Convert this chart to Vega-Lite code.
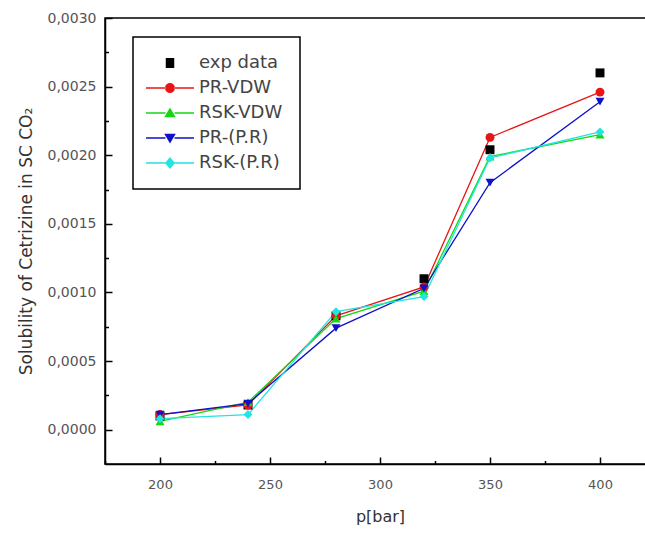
{
  "$schema": "https://vega.github.io/schema/vega-lite/v6.json",
  "autosize": "none",
  "padding": {"left": 105, "top": 18, "right": 0, "bottom": 70},
  "width": 550,
  "height": 446,
  "background": "white",
  "config": {
    "view": {"stroke": "black", "strokeWidth": 1.5},
    "font": "DejaVu Sans",
    "axis": {
      "domainColor": "black", "domainWidth": 1.5, "grid": false,
      "tickColor": "black", "tickWidth": 1.5,
      "labelFont": "DejaVu Sans", "labelFontSize": 13, "labelColor": "#555555",
      "titleFont": "DejaVu Sans", "titleFontWeight": "normal", "titleColor": "#333333"
    }
  },
  "data": {"values": [
    {"p": 200, "series": "exp data", "value": 0.00010},
    {"p": 240, "series": "exp data", "value": 0.00018},
    {"p": 280, "series": "exp data", "value": 0.00083},
    {"p": 320, "series": "exp data", "value": 0.00110},
    {"p": 350, "series": "exp data", "value": 0.00204},
    {"p": 400, "series": "exp data", "value": 0.00260},
    {"p": 200, "series": "PR-VDW", "value": 0.00011},
    {"p": 240, "series": "PR-VDW", "value": 0.00018},
    {"p": 280, "series": "PR-VDW", "value": 0.00083},
    {"p": 320, "series": "PR-VDW", "value": 0.00104},
    {"p": 350, "series": "PR-VDW", "value": 0.00213},
    {"p": 400, "series": "PR-VDW", "value": 0.00246},
    {"p": 200, "series": "RSK-VDW", "value": 0.00006},
    {"p": 240, "series": "RSK-VDW", "value": 0.00020},
    {"p": 280, "series": "RSK-VDW", "value": 0.00081},
    {"p": 320, "series": "RSK-VDW", "value": 0.00101},
    {"p": 350, "series": "RSK-VDW", "value": 0.00199},
    {"p": 400, "series": "RSK-VDW", "value": 0.00215},
    {"p": 200, "series": "PR-(P.R)", "value": 0.00011},
    {"p": 240, "series": "PR-(P.R)", "value": 0.00019},
    {"p": 280, "series": "PR-(P.R)", "value": 0.00074},
    {"p": 320, "series": "PR-(P.R)", "value": 0.00103},
    {"p": 350, "series": "PR-(P.R)", "value": 0.00180},
    {"p": 400, "series": "PR-(P.R)", "value": 0.00239},
    {"p": 200, "series": "RSK-(P.R)", "value": 0.00008},
    {"p": 240, "series": "RSK-(P.R)", "value": 0.00011},
    {"p": 280, "series": "RSK-(P.R)", "value": 0.00086},
    {"p": 320, "series": "RSK-(P.R)", "value": 0.00097},
    {"p": 350, "series": "RSK-(P.R)", "value": 0.00198},
    {"p": 400, "series": "RSK-(P.R)", "value": 0.00217}
  ]},
  "encoding": {
    "x": {
      "field": "p", "type": "quantitative",
      "scale": {"domain": [175, 425], "nice": false, "zero": false},
      "axis": {
        "title": "p[bar]", "titleFontSize": 16,
        "values": [175, 200, 225, 250, 275, 300, 325, 350, 375, 400, 425],
        "labelExpr": "datum.value % 50 == 0 ? format(datum.value, 'd') : ''",
        "tickSize": {"condition": {"test": "datum.value % 50 != 0", "value": -3.5}, "value": -7},
        "labelPadding": 21, "titlePadding": 17
      }
    },
    "y": {
      "field": "value", "type": "quantitative",
      "scale": {"domain": [-0.00025, 0.003], "nice": false, "zero": false},
      "axis": {
        "title": "Solubility of Cetrizine in SC CO₂", "titleFontSize": 17,
        "values": [0, 0.00025, 0.0005, 0.00075, 0.001, 0.00125, 0.0015, 0.00175, 0.002, 0.00225, 0.0025, 0.00275, 0.003],
        "labelExpr": "round(datum.value*20000) % 2 == 0 ? replace(format(datum.value, '.4f'), '.', ',') : ''",
        "labelFontSize": 14,
        "tickSize": {"condition": {"test": "round(datum.value*20000) % 2 != 0", "value": -3.5}, "value": -7},
        "labelPadding": 16, "titlePadding": 12
      }
    },
    "color": {
      "field": "series", "type": "nominal",
      "scale": {
        "domain": ["exp data", "PR-VDW", "RSK-VDW", "PR-(P.R)", "RSK-(P.R)"],
        "range": ["#000000", "#e81515", "#15d815", "#1010c8", "#22e4e4"]
      },
      "legend": null
    }
  },
  "layer": [
    {
      "transform": [{"filter": "datum.series != 'exp data'"}],
      "mark": {"type": "line", "strokeWidth": 1.3, "clip": true},
      "encoding": {"detail": {"field": "series"}}
    },
    {
      "mark": {"type": "point", "filled": true, "size": 80, "opacity": 1, "clip": true},
      "encoding": {
        "shape": {
          "field": "series", "type": "nominal",
          "scale": {
            "domain": ["exp data", "PR-VDW", "RSK-VDW", "PR-(P.R)", "RSK-(P.R)"],
            "range": ["square", "circle", "triangle-up", "triangle-down", "diamond"]
          },
          "legend": null
        }
      }
    },
    {
      "mark": {"type": "point", "filled": true, "size": 100, "opacity": 0},
      "encoding": {
        "color": {
          "field": "series", "type": "nominal",
          "legend": {
            "title": null, "orient": "none", "legendX": 28, "legendY": 19,
            "strokeColor": "black", "fillColor": "white", "padding": 17,
            "labelFont": "DejaVu Sans", "labelFontSize": 18, "labelColor": "#444444",
            "rowPadding": 7, "symbolOffset": 11, "labelOffset": 20,
            "encode": {"symbols": {"update": {"opacity": {"value": 1}}}, "legend": {"update": {"strokeWidth": {"value": 1.5}}}}
          }
        },
        "shape": {
          "field": "series", "type": "nominal",
          "scale": {
            "domain": ["exp data", "PR-VDW", "RSK-VDW", "PR-(P.R)", "RSK-(P.R)"],
            "range": [
              "M-0.85,-1H0.85V1H-0.85Z",
              "M-4.8,-0.13H-0.9V0.13H-4.8Z M0.9,-0.13H4.8V0.13H0.9Z M-1,0A1,1 0 1,0 1,0A1,1 0 1,0 -1,0Z",
              "M-4.8,-0.13H-0.9V0.13H-4.8Z M0.9,-0.13H4.8V0.13H0.9Z M0,-1.1L1.15,0.85L-1.15,0.85Z",
              "M-4.8,-0.13H-0.9V0.13H-4.8Z M0.9,-0.13H4.8V0.13H0.9Z M0,1.1L1.15,-0.85L-1.15,-0.85Z",
              "M-4.8,-0.13H-0.9V0.13H-4.8Z M0.9,-0.13H4.8V0.13H0.9Z M0,-1.2L1,0L0,1.2L-1,0Z"
            ]
          },
          "legend": {
            "title": null, "orient": "none", "legendX": 28, "legendY": 19,
            "strokeColor": "black", "fillColor": "white", "padding": 17,
            "labelFont": "DejaVu Sans", "labelFontSize": 18, "labelColor": "#444444",
            "rowPadding": 7, "symbolOffset": 11, "labelOffset": 20,
            "encode": {"symbols": {"update": {"opacity": {"value": 1}}}, "legend": {"update": {"strokeWidth": {"value": 1.5}}}}
          }
        }
      }
    }
  ],
  "resolve": {"scale": {"shape": "independent"}, "legend": {"color": "independent", "shape": "independent"}}
}
